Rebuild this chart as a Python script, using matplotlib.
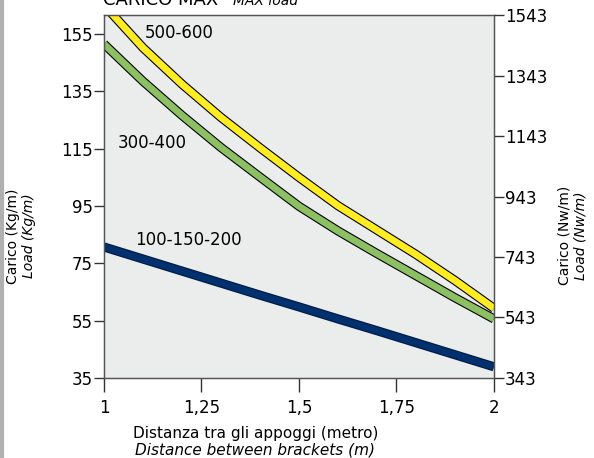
import numpy as np
import matplotlib.pyplot as plt
import matplotlib.patheffects as pe

# distance between brackets (m)
dist = [1.0, 1.1, 1.2, 1.3, 1.4, 1.5, 1.6, 1.7, 1.8, 1.9, 2.0]

# max load (Kg/m)
load_500_600 = [165.1, 150.2, 137.5, 125.9, 115.3, 105.0, 95.1, 86.6, 78.1, 69.0, 59.3]
load_300_400 = [151.5, 138.5, 126.6, 115.4, 105.1, 94.9, 86.3, 78.4, 70.7, 63.0, 55.6]
load_100_200 = [80.7, 76.5, 72.3, 68.1, 63.9, 59.8, 55.6, 51.5, 47.3, 43.1, 38.9]

left_ticks = [35, 55, 75, 95, 115, 135, 155]
right_ticks = [343, 543, 743, 943, 1143, 1343, 1543]
x_ticks = [1, 1.25, 1.5, 1.75, 2]
x_labels = ['1', '1,25', '1,5', '1,75', '2']

fig = plt.figure(figsize=(5.94, 4.58), dpi=100)
ax = fig.add_axes([0.175, 0.1747, 0.6566, 0.7925])
ax.set_facecolor('#ebeded')

def band(y, col, edge='black', lw=5):
	ax.plot(dist, y, color=col, lw=lw, solid_joinstyle='round', solid_capstyle='butt',
		path_effects=[pe.Stroke(linewidth=lw + 1.6, foreground=edge), pe.Normal()])

band(load_100_200, '#00306e', edge='#001a40')
band(load_300_400, '#8cc063')
band(load_500_600, '#ffec21')

ax.set_xlim(1, 2)
ax.set_ylim(35, 161.6)
ax.set_xticks(x_ticks)
ax.set_xticklabels(x_labels)
ax.set_yticks(left_ticks)
ax.tick_params(axis='x', length=10, width=1, labelsize=12, color='#333333', pad=5)
ax.tick_params(axis='y', length=7, width=1, labelsize=12, color='#333333', pad=1)
for s in ax.spines.values():
	s.set_color('#555555')
	s.set_linewidth(1)

ax2 = ax.twinx()
ax2.set_ylim(343, 1543)
ax2.set_yticks(right_ticks)
ax2.tick_params(axis='y', length=7, width=1, labelsize=12, color='#333333', pad=1)
for s in ax2.spines.values():
	s.set_color('#555555')

ax.text(1.105, 155.3, '500-600', fontsize=12, va='center')
ax.text(1.035, 117.0, '300-400', fontsize=12, va='center')
ax.text(1.08, 83.2, '100-150-200', fontsize=12, va='center')

# axis titles, italian + english
fig.text(0.43, 0.044, 'Distanza tra gli appoggi (metro)', fontsize=11, ha='center')
fig.text(0.43, 0.008, 'Distance between brackets (m)', fontsize=11, ha='center', style='italic')
fig.text(0.022, 0.485, 'Carico (Kg/m)', fontsize=10, rotation=90, va='center', ha='center')
fig.text(0.048, 0.485, 'Load (Kg/m)', fontsize=10, rotation=90, va='center', ha='center', style='italic')
fig.text(0.951, 0.485, 'Carico (Nw/m)', fontsize=10, rotation=90, va='center', ha='center')
fig.text(0.977, 0.485, 'Load (Nw/m)', fontsize=10, rotation=90, va='center', ha='center', style='italic')

fig.text(0.173, 0.990, 'CARICO MAX', fontsize=13, va='baseline')
fig.text(0.392, 0.990, 'MAX load', fontsize=10, va='baseline', style='italic')

# grey border on the left
fig.add_artist(plt.Line2D([0.004, 0.004], [0, 1], color='#b0b0b0', lw=3, transform=fig.transFigure))

fig.savefig('out.png', dpi=100)
